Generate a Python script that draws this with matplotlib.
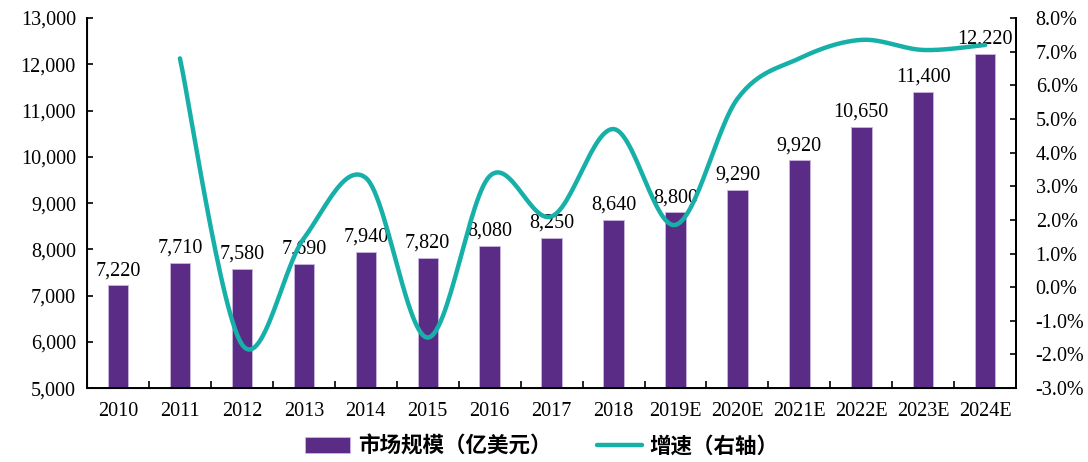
import numpy as np
import matplotlib
matplotlib.use("Agg")
import matplotlib.pyplot as plt
from matplotlib.ticker import FuncFormatter, MultipleLocator

years = ["2010", "2011", "2012", "2013", "2014", "2015", "2016", "2017", "2018",
         "2019E", "2020E", "2021E", "2022E", "2023E", "2024E"]
market = [7220, 7710, 7580, 7690, 7940, 7820, 8080, 8250, 8640,
          8800, 9290, 9920, 10650, 11400, 12220]
# growth rate (%), first year has no value
growth_years = years[1:]
growth = [6.8, -1.7, 1.45, 3.25, -1.5, 3.3, 2.1, 4.7, 1.85, 5.6, 6.8, 7.35, 7.05, 7.2]

bar_color = "#5b2c86"
line_color = "#17b0a8"
serif = ["Liberation Serif", "DejaVu Serif"]
cjk = ["Noto Sans CJK SC", "DejaVu Sans"]


def smooth(x, y, n=30):
    # catmull-rom style smoothing like the office "smoothed line"
    x = np.asarray(x, float)
    y = np.asarray(y, float)
    px = np.concatenate([[x[0]], x, [x[-1]]])
    py = np.concatenate([[y[0]], y, [y[-1]]])
    xs, ys = [], []
    t = np.linspace(0, 1, n)
    for i in range(1, len(px) - 2):
        p0, p1, p2, p3 = (np.array([px[j], py[j]]) for j in range(i - 1, i + 3))
        c1 = p1 + (p2 - p0) / 6
        c2 = p2 - (p3 - p1) / 6
        b = ((1 - t) ** 3)[:, None] * p1 + (3 * (1 - t) ** 2 * t)[:, None] * c1 \
            + (3 * (1 - t) * t ** 2)[:, None] * c2 + (t ** 3)[:, None] * p2
        xs.append(b[:, 0])
        ys.append(b[:, 1])
    return np.concatenate(xs), np.concatenate(ys)


fig = plt.figure(figsize=(10.88, 4.62), dpi=100)
ax = fig.add_axes([0.080, 0.160, 0.854, 0.801])
x = np.arange(len(years))
bars = ax.bar(x, market, width=0.33, color=bar_color, edgecolor="#c9b6dd",
              linewidth=0.6, label="市场规模（亿美元）", zorder=2)
for xi, v in zip(x, market):
    ax.text(xi, v + 110, f"{v:,}", ha="center", va="bottom",
            family=serif, fontsize=14.5, zorder=5)

ax.set_ylim(5000, 13000)
ax.set_xlim(-0.5, len(years) - 0.5)
ax.yaxis.set_major_locator(MultipleLocator(1000))
ax.yaxis.set_major_formatter(FuncFormatter(lambda v, p: f"{int(v):,}"))
ax.set_xticks(x)
ax.set_xticklabels(years)
ax.set_xticks(np.arange(-0.5, len(years)), minor=True)
ax.tick_params(axis="x", which="major", length=0, pad=10)
ax.tick_params(axis="x", which="minor", direction="in", length=5, width=1.2)
ax.tick_params(axis="y", direction="in", length=4, width=1.2, pad=8)
for lab in ax.get_xticklabels() + ax.get_yticklabels():
    lab.set_family(serif)
    lab.set_fontsize(14.5)
ax.spines["top"].set_visible(False)
for s in ["left", "bottom", "right"]:
    ax.spines[s].set_linewidth(1.4)

ax2 = ax.twinx()
gx = np.arange(1, len(years))
sx, sy = smooth(gx, growth)
line, = ax2.plot(sx, sy, color=line_color, linewidth=3.2, label="增速（右轴）",
                 solid_capstyle="round", zorder=4)
ax2.set_ylim(-3, 8)
ax2.yaxis.set_major_locator(MultipleLocator(1))
ax2.yaxis.set_major_formatter(FuncFormatter(lambda v, p: f"{v:.1f}%"))
ax2.tick_params(axis="y", direction="in", length=4, width=1.2, pad=14)
for lab in ax2.get_yticklabels():
    lab.set_family(serif)
    lab.set_fontsize(14.5)
ax2.spines["top"].set_visible(False)
ax2.spines["right"].set_linewidth(1.4)

leg = fig.legend([bars, line], ["市场规模（亿美元）", "增速（右轴）"],
                 loc="center", bbox_to_anchor=(0.498, 0.035), ncol=2,
                 frameon=False, handlelength=2.1, handleheight=0.8,
                 columnspacing=2.1, handletextpad=0.35,
                 prop={"family": cjk, "size": 15.5, "weight": "bold"})

fig.savefig("out.png", dpi=100)
